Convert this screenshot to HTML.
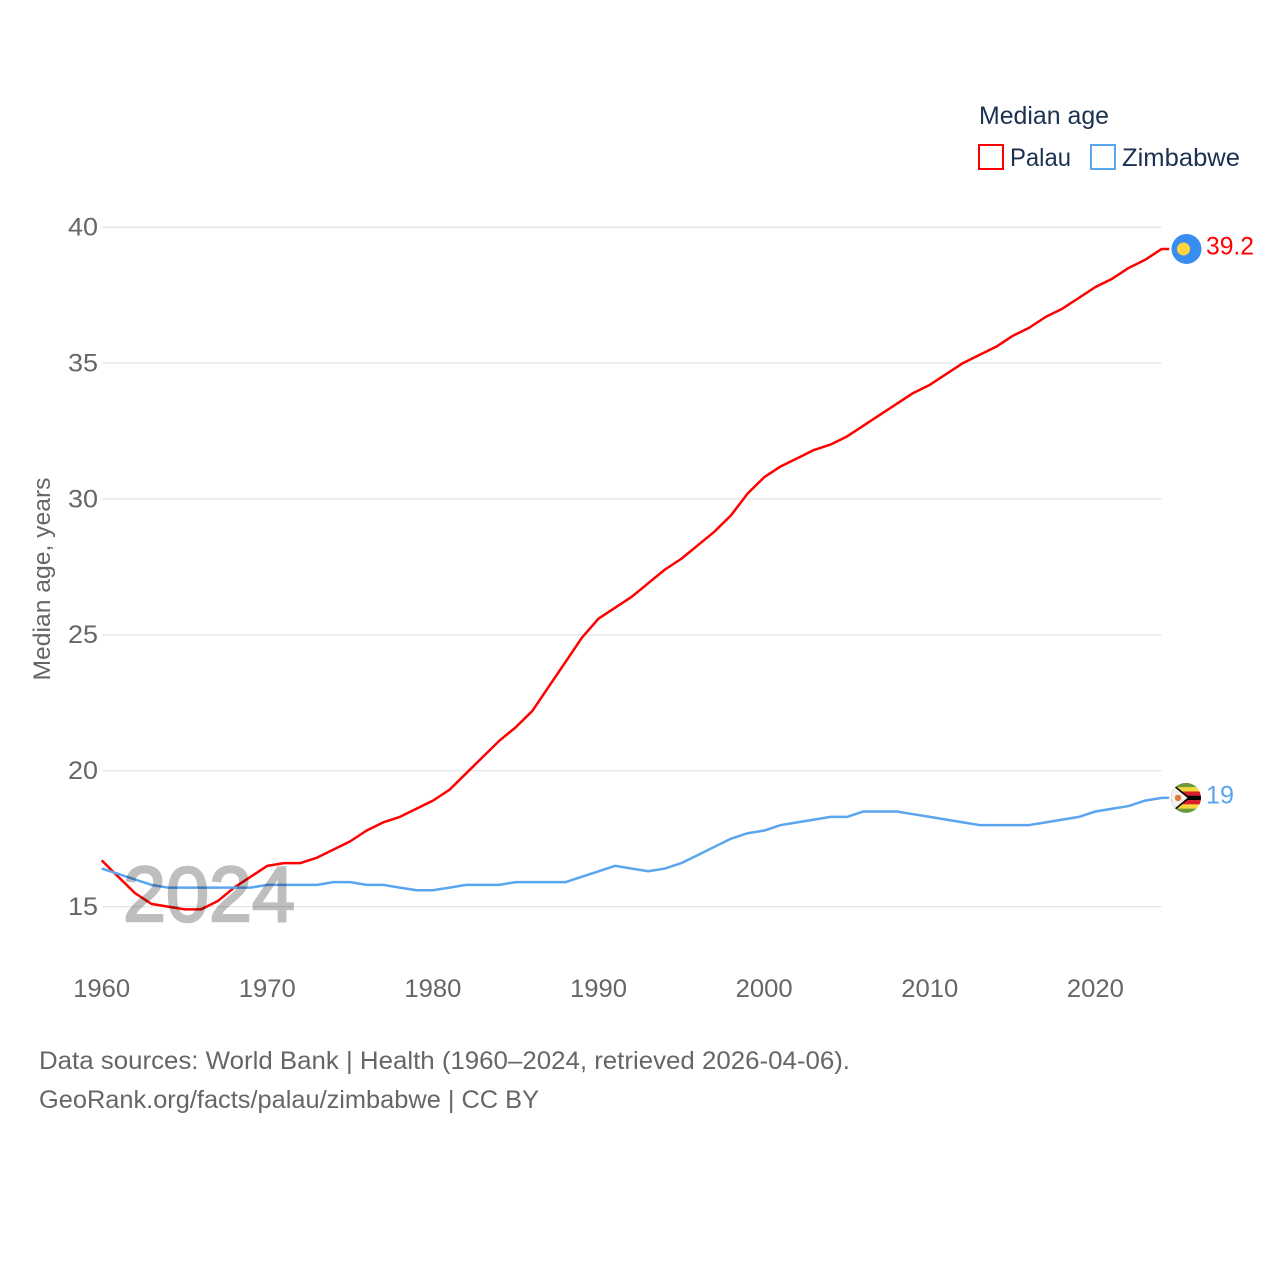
<!DOCTYPE html>
<html>
<head>
<meta charset="utf-8">
<style>
html,body{margin:0;padding:0;background:#fff;}
svg{display:block;font-family:"Liberation Sans",sans-serif;}
</style>
</head>
<body>
<svg id="chart" width="1280" height="1280" viewBox="0 0 1280 1280" xmlns="http://www.w3.org/2000/svg">
  <defs>
    <clipPath id="flag-clip"><circle cx="0" cy="0" r="15"></circle></clipPath>
  </defs>
  <g id="grid"></g>
  <g id="y-ticks"></g>
  <g id="x-ticks"></g>
  <g id="series"></g>
  <text x="123" y="921" font-size="78" font-weight="400" fill="#000" stroke="#000" stroke-width="2.4" opacity="0.25" textLength="172" lengthAdjust="spacingAndGlyphs">2024</text>
  <g id="end-labels"></g>
  <text transform="translate(50,579) rotate(-90)" text-anchor="middle" font-size="24" fill="#666" textLength="203" lengthAdjust="spacingAndGlyphs">Median age, years</text>
  <g>
    <text x="979" y="124" font-size="25" fill="#1a3150" textLength="130" lengthAdjust="spacingAndGlyphs">Median age</text>
    <rect x="979" y="145" width="24" height="24" fill="#fff" stroke="#ff0000" stroke-width="2"></rect>
    <text x="1010" y="166" font-size="25" fill="#1a3150" textLength="61" lengthAdjust="spacingAndGlyphs">Palau</text>
    <rect x="1091" y="145" width="24" height="24" fill="#fff" stroke="#5aa5f0" stroke-width="2"></rect>
    <text x="1122" y="166" font-size="25" fill="#1a3150" textLength="118" lengthAdjust="spacingAndGlyphs">Zimbabwe</text>
  </g>
  <g>
    <text x="39" y="1069" font-size="25" fill="#666" textLength="811" lengthAdjust="spacingAndGlyphs">Data sources: World Bank | Health (1960–2024, retrieved 2026-04-06).</text>
    <text x="39" y="1108" font-size="25" fill="#666" textLength="500" lengthAdjust="spacingAndGlyphs">GeoRank.org/facts/palau/zimbabwe | CC BY</text>
  </g>
</svg>
<script>
var years = [1960,1961,1962,1963,1964,1965,1966,1967,1968,1969,1970,1971,1972,1973,1974,1975,1976,1977,1978,1979,1980,1981,1982,1983,1984,1985,1986,1987,1988,1989,1990,1991,1992,1993,1994,1995,1996,1997,1998,1999,2000,2001,2002,2003,2004,2005,2006,2007,2008,2009,2010,2011,2012,2013,2014,2015,2016,2017,2018,2019,2020,2021,2022,2023,2024];
var palau = [16.7,16.1,15.5,15.1,15.0,14.9,14.9,15.2,15.7,16.1,16.5,16.6,16.6,16.8,17.1,17.4,17.8,18.1,18.3,18.6,18.9,19.3,19.9,20.5,21.1,21.6,22.2,23.1,24.0,24.9,25.6,26.0,26.4,26.9,27.4,27.8,28.3,28.8,29.4,30.2,30.8,31.2,31.5,31.8,32.0,32.3,32.7,33.1,33.5,33.9,34.2,34.6,35.0,35.3,35.6,36.0,36.3,36.7,37.0,37.4,37.8,38.1,38.5,38.8,39.2];
var zimbabwe = [16.4,16.2,16.0,15.8,15.7,15.7,15.7,15.7,15.7,15.7,15.8,15.8,15.8,15.8,15.9,15.9,15.8,15.8,15.7,15.6,15.6,15.7,15.8,15.8,15.8,15.9,15.9,15.9,15.9,16.1,16.3,16.5,16.4,16.3,16.4,16.6,16.9,17.2,17.5,17.7,17.8,18.0,18.1,18.2,18.3,18.3,18.5,18.5,18.5,18.4,18.3,18.2,18.1,18.0,18.0,18.0,18.0,18.1,18.2,18.3,18.5,18.6,18.7,18.9,19.0];
var yTickLabels = [15,20,25,30,35,40];
var xTickLabels = [1960,1970,1980,1990,2000,2010,2020];

var NS = 'http://www.w3.org/2000/svg';
function xScale(v){ return 101.7 + (v - 1960) * (1161.7 - 101.7) / 64; }
function yScale(v){ return 906.6 - (v - 15) * (906.6 - 227.2) / 25; }
function mk(tag, attrs, parent){
  var el = document.createElementNS(NS, tag);
  for (var k in attrs) el.setAttribute(k, attrs[k]);
  parent.appendChild(el);
  return el;
}
var gridG = document.getElementById('grid');
var yG = document.getElementById('y-ticks');
var xG = document.getElementById('x-ticks');
var seriesG = document.getElementById('series');
var endG = document.getElementById('end-labels');

yTickLabels.forEach(function(t){
  var line = mk('line', {x1:102, x2:1161.5, y1:yScale(t), y2:yScale(t), stroke:'#e6e6e6', 'stroke-width':1.3}, gridG);
  
  
  var label = mk('text', {x:98, y:yScale(t)+8.4, 'text-anchor':'end', 'font-size':25, fill:'#666', textLength:30, lengthAdjust:'spacingAndGlyphs'}, yG);
  
  
  label.textContent = t;
});
xTickLabels.forEach(function(t){
  var label = mk('text', {x:xScale(t), y:997, 'text-anchor':'middle', 'font-size':25, fill:'#666', textLength:57, lengthAdjust:'spacingAndGlyphs'}, xG);
  
  
  label.textContent = t;
});

function drawSeries(values, color, name){
  var pts = values.map(function(v, i){ return xScale(years[i]).toFixed(2) + ',' + yScale(v).toFixed(2); });
  var last = values[values.length - 1];
  pts.push((xScale(years[years.length - 1]) + 7.5).toFixed(2) + ',' + yScale(last).toFixed(2));
  var line = mk('polyline', {points:pts.join(' '), fill:'none', stroke:color, 'stroke-width':2.5, 'stroke-linejoin':'round'}, seriesG);
  
  
}
drawSeries(palau, '#ff0000', 'line-palau');
drawSeries(zimbabwe, '#5aa5f0', 'line-zimbabwe');

var palauLast = palau[palau.length - 1];
var zimLast = zimbabwe[zimbabwe.length - 1];

var palauFlag = mk('g', {transform:'translate(1186.5,' + yScale(palauLast) + ')'}, endG);


mk('circle', {cx:0, cy:0, r:15, fill:'#3a8df0'}, palauFlag);
mk('circle', {cx:-3, cy:0, r:6.5, fill:'#ffd53f'}, palauFlag);

var palauValue = mk('text', {x:1206, y:yScale(palauLast)+5.5, 'font-size':25, fill:'#ff0000', textLength:48, lengthAdjust:'spacingAndGlyphs'}, endG);


palauValue.textContent = palauLast;

var zimFlag = mk('g', {transform:'translate(1186,' + yScale(zimLast) + ')'}, endG);


var clip = mk('g', {'clip-path':'url(#flag-clip)'}, zimFlag);
var stripeColors = ['#6a9a3c','#f5d63d','#d8202a','#000000','#d8202a','#f5d63d','#6a9a3c'];
stripeColors.forEach(function(c, i){
  mk('rect', {x:-15, y:-15 + i * 30 / 7, width:30, height:30 / 7 + 0.2, fill:c}, clip);
});
mk('polygon', {points:'-16,-16.5 4,0 -16,16.5', fill:'#000'}, clip);
mk('polygon', {points:'-16,-14.5 1.5,0 -16,14.5', fill:'#f4f1ee'}, clip);
mk('circle', {cx:-8, cy:0, r:3.2, fill:'#e07a3a'}, clip);

var zimValue = mk('text', {x:1206, y:yScale(zimLast)+5.5, 'font-size':25, fill:'#5aa5f0', textLength:28, lengthAdjust:'spacingAndGlyphs'}, endG);


zimValue.textContent = zimLast;
</script>
</body>
</html>
